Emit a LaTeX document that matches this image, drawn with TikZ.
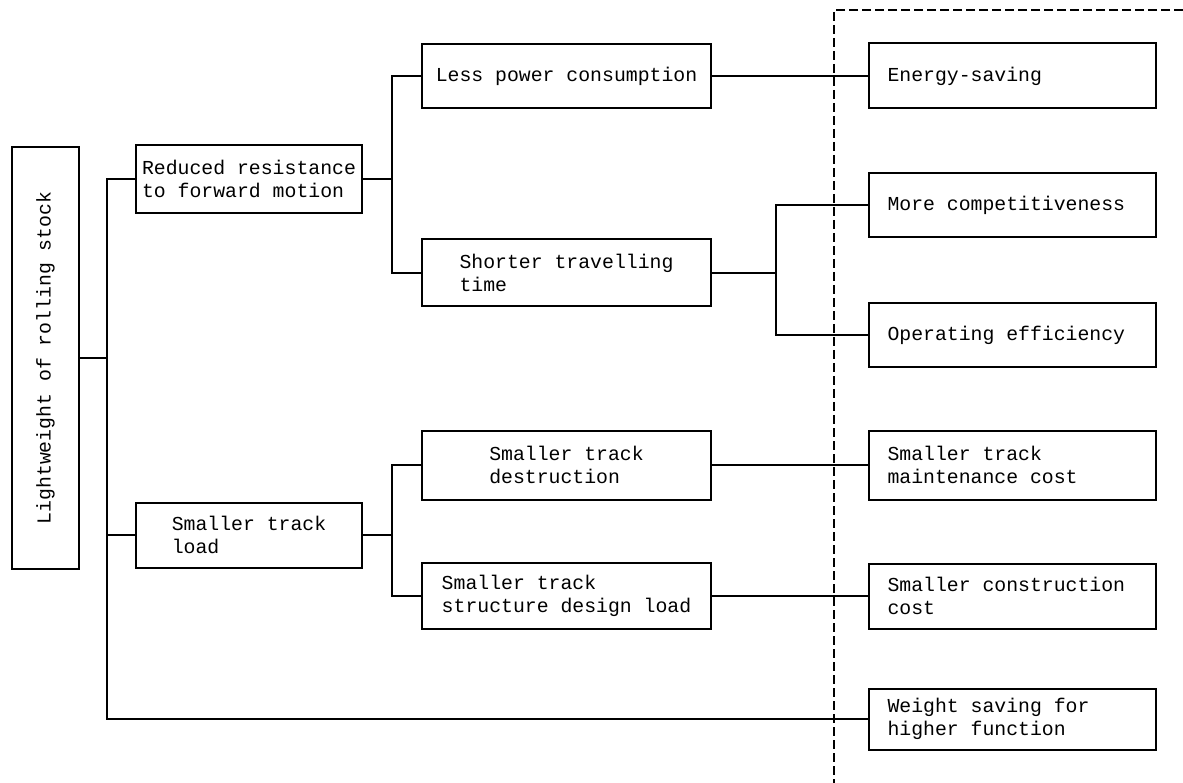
\documentclass[tikz,border=0pt]{standalone}
\usepackage{fontspec}
\newfontfamily\typefont{Liberation Mono}

\begin{document}
\begin{tikzpicture}[x=1pt,y=-1pt,
	box/.style={draw, line width=2pt, inner xsep=6pt, inner ysep=4pt, font=\typefont\fontsize{19.8}{23.5}\selectfont},
	lbox/.style={box, align=left, minimum width=226pt},
	mbox/.style={box, align=left, minimum width=289pt},
	rbox/.style={box, align=flush left, inner xsep=18.5pt, text width=250pt},
	link/.style={line width=1.3pt}]
	\useasboundingbox (0,0) rectangle (1183,783);

	\node[box, rotate=90, minimum width=422pt, minimum height=67pt] (root) at (45.5,358) {Lightweight of rolling stock};

	\node[lbox, minimum height=68pt] (red) at (249,179) {Reduced resistance\\to forward motion};
	\node[lbox, minimum height=65pt] (load) at (249,535) {Smaller track\\load};

	\node[mbox, minimum height=64pt] (power) at (566.5,76) {Less power consumption};
	\node[mbox, minimum height=67pt] (time) at (566.5,273) {Shorter travelling\\time};
	\node[mbox, minimum height=69pt] (destr) at (566.5,465) {Smaller track\\destruction};
	\node[mbox, minimum height=66pt] (design) at (566.5,596) {Smaller track\\structure design load};

	\node[rbox, minimum height=65pt] (energy) at (1012.5,76) {Energy-saving};
	\node[rbox, minimum height=64pt] (compet) at (1012.5,205) {More competitiveness};
	\node[rbox, minimum height=64pt] (operat) at (1012.5,335) {Operating efficiency};
	\node[rbox, minimum height=69pt] (maint) at (1012.5,465) {Smaller track\\maintenance cost};
	\node[rbox, minimum height=65pt] (constr) at (1012.5,596) {Smaller construction\\cost};
	\node[rbox, minimum height=61pt] (weight) at (1012.5,719) {Weight saving for\\higher function};

	\coordinate (t) at (107,719);
	\coordinate (b1) at (392,179);
	\coordinate (b2) at (392,535);
	\coordinate (b3) at (776,273);

	\draw[link] (red.west) -| (t) -- (weight.west);
	\draw[link] (root.south) -- (root.south -| t);
	\draw[link] (load.west) -- (load.west -| t);

	\draw[link] (red.east) -- (b1);
	\draw[link] (power.west) -| (b1) |- (time.west);
	\draw[link] (load.east) -- (b2);
	\draw[link] (destr.west) -| (b2) |- (design.west);
	\draw[link] (time.east) -- (b3);
	\draw[link] (compet.west) -| (b3) |- (operat.west);

	\draw[link] (power.east) -- (energy.west);
	\draw[link] (destr.east) -- (maint.west);
	\draw[link] (design.east) -- (constr.west);

	\coordinate (fr) at (1183,10);
	\coordinate (fb) at (834,783);
	\draw[line width=1.4pt, dash pattern=on 9pt off 4pt] (fr) -| (fb);
\end{tikzpicture}
\end{document}
